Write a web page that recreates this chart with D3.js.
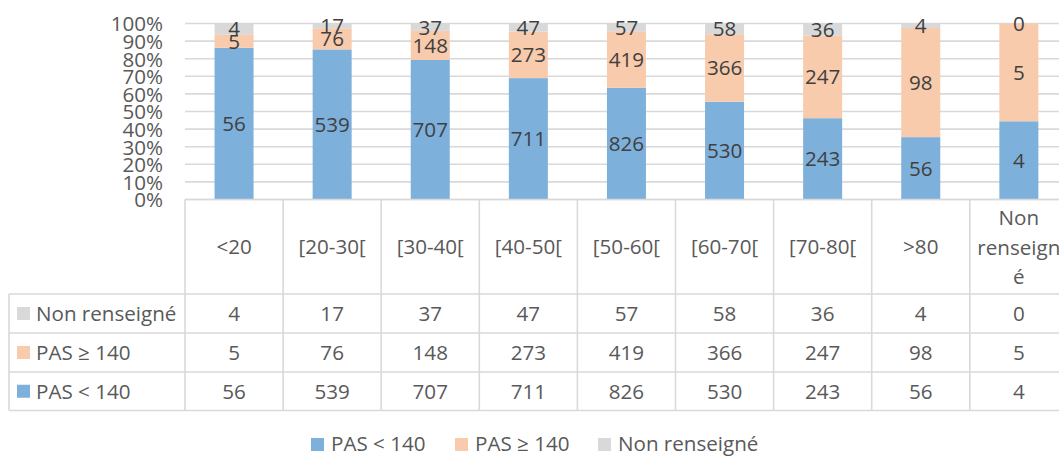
<!DOCTYPE html>
<html><head><meta charset="utf-8">
<script src="https://cdn.jsdelivr.net/npm/d3@7"></script>
<style>body{margin:0;background:#fff;} svg{display:block;font-family:"Open Sans",sans-serif;}</style>
</head><body>
<svg id="c" width="1059" height="456"></svg>
<script>
const categories = ["<20","[20-30[","[30-40[","[40-50[","[50-60[","[60-70[","[70-80[",">80","Non renseigné"];
const pasLow = [56,539,707,711,826,530,243,56,4];
const pasHigh = [5,76,148,273,419,366,247,98,5];
const nonRens = [4,17,37,47,57,58,36,4,0];
const seriesNames = ["PAS < 140","PAS ≥ 140","Non renseigné"];
const seriesColors = ["#7eb0dc","#f8cbad","#d9d9d9"];
const yTicks = [0,0.1,0.2,0.3,0.4,0.5,0.6,0.7,0.8,0.9,1];

const FS = "20.6px";
const svg = d3.select("#c");
const grid = "#d9d9d9";
const x = d3.scaleBand().domain(categories).range([185, 185 + 9*98.1]).padding(0);
const y = d3.scaleLinear().domain([0,1]).range([199.5, 23.5]);
const barW = 39;

// gridlines
svg.append("g").selectAll("line").data(yTicks).join("line")
  .attr("x1",185).attr("x2",1059).attr("y1",d=>y(d)).attr("y2",d=>y(d))
  .attr("stroke",grid).attr("stroke-width",1.6);

// y axis labels
const yAxis = d3.axisLeft(y).tickValues(yTicks).tickFormat(d3.format(".0%")).tickSize(0).tickPadding(0);
const ya = svg.append("g").attr("transform","translate(163,0)").call(yAxis);
ya.select(".domain").remove();
ya.selectAll("text").attr("fill","#595959").style("font-size",FS).style("font-family","Open Sans").attr("dy","0.36em");

// stack
const rows = categories.map((c,i)=>({cat:c, s0:pasLow[i], s1:pasHigh[i], s2:nonRens[i]}));
const stack = d3.stack().keys(["s0","s1","s2"]).offset(d3.stackOffsetExpand);
const layers = stack(rows);
const g = svg.append("g");
layers.forEach((layer,li)=>{
  g.append("g").selectAll("rect").data(layer).join("rect")
    .attr("x",d=>x(d.data.cat)+x.bandwidth()/2-barW/2).attr("width",barW)
    .attr("y",d=>y(d[1])).attr("height",d=>y(d[0])-y(d[1]))
    .attr("fill",seriesColors[li]);
});
layers.forEach((layer,li)=>{
  g.append("g").selectAll("text").data(layer).join("text")
    .attr("x",d=>x(d.data.cat)+x.bandwidth()/2)
    .attr("y",d=>y((d[0]+d[1])/2))
    .attr("dy","0.36em").attr("text-anchor","middle")
    .attr("fill","#404040").style("font-size",FS)
    .text(d=>d.data[layer.key]);
});

// data table
const tbl = svg.append("g");
const hTop = 199.5, rowH = [294,333,372,410.5];
const xs = categories.map(c=>x(c)).concat([x(categories[8])+x.bandwidth()]);
tbl.append("line").attr("x1",185).attr("x2",1059).attr("y1",hTop).attr("y2",hTop).attr("stroke",grid).attr("stroke-width",1.6);
rowH.forEach(yy=>tbl.append("line").attr("x1",9).attr("x2",1059).attr("y1",yy).attr("y2",yy).attr("stroke",grid).attr("stroke-width",1.6));
xs.forEach(xx=>tbl.append("line").attr("x1",xx).attr("x2",xx).attr("y1",hTop).attr("y2",410.5).attr("stroke",grid).attr("stroke-width",1.6));
tbl.append("line").attr("x1",9).attr("x2",9).attr("y1",294).attr("y2",410.5).attr("stroke",grid).attr("stroke-width",1.6);

// header labels
categories.forEach((c,i)=>{
  const cx = x(c)+x.bandwidth()/2;
  if(c==="Non renseigné"){
    ["Non","renseign","é"].forEach((t,k)=>{
      tbl.append("text").attr("x",cx).attr("y",218+k*29.5).attr("dy","0.36em").attr("text-anchor","middle")
        .attr("fill","#595959").style("font-size",FS).text(t);
    });
  } else {
    tbl.append("text").attr("x",cx).attr("y",247).attr("dy","0.36em").attr("text-anchor","middle")
      .attr("fill","#595959").style("font-size",FS).text(c);
  }
});
const tableRows = [[nonRens,2],[pasHigh,1],[pasLow,0]];
tableRows.forEach(([vals,si],r)=>{
  const cy = (rowH[r]+rowH[r+1])/2;
  tbl.append("rect").attr("x",17).attr("y",cy-6.5).attr("width",13).attr("height",13).attr("fill",seriesColors[si]);
  tbl.append("text").attr("x",36).attr("y",cy).attr("dy","0.36em").attr("fill","#595959").style("font-size",FS).text(seriesNames[si]);
  vals.forEach((v,i)=>{
    tbl.append("text").attr("x",x(categories[i])+x.bandwidth()/2).attr("y",cy).attr("dy","0.36em")
      .attr("text-anchor","middle").attr("fill","#595959").style("font-size",FS).text(v);
  });
});

// legend
const legX = [311,455,598];
const leg = svg.append("g");
seriesNames.forEach((n,i)=>{
  leg.append("rect").attr("x",legX[i]).attr("y",438).attr("width",13).attr("height",13).attr("fill",seriesColors[i]);
  leg.append("text").attr("x",legX[i]+20).attr("y",444).attr("dy","0.36em").attr("fill","#595959").style("font-size",FS).text(n);
});
</script>
</body></html>
